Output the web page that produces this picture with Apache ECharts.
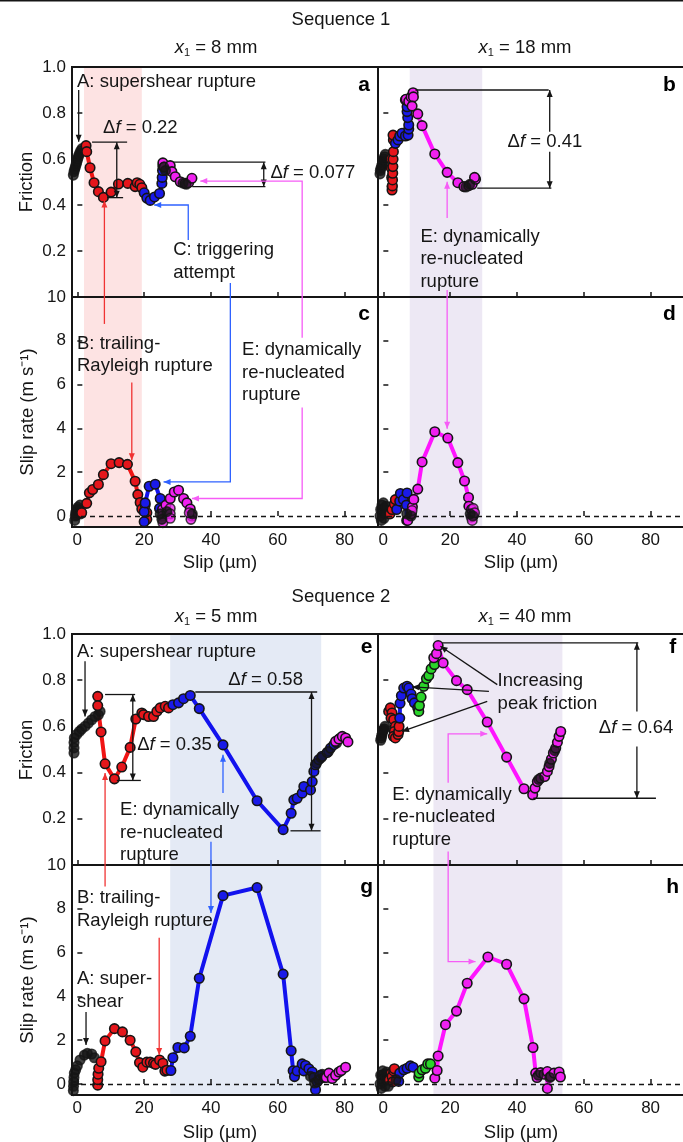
<!DOCTYPE html>
<html><head><meta charset="utf-8">
<script src="https://cdn.jsdelivr.net/npm/echarts@6/dist/echarts.min.js"></script>
<style>html,body{margin:0;padding:0;background:#fff}#c{width:683px;height:1142px}</style>
</head><body><div id="c"></div>
<script>
// ---------- tick labels ----------
const X_TICKS = [0, 20, 40, 60, 80];
const FRICTION_TICKS = [0.2, 0.4, 0.6, 0.8, 1.0];
const RATE_TICKS = [0, 2, 4, 6, 8, 10];

// ---------- shaded slip windows (µm) ----------
const shadeSeq1Left = [2.0, 19.3];
const shadeSeq1Right = [7.9, 29.6];
const shadeSeq2Left = [27.8, 73.0];
const shadeSeq2Right = [15.0, 53.6];

// ---------- panel a : friction, sequence 1, x1 = 8 mm ----------
const aBlack = [[-1.2,0.53],[-1.0,0.545],[-0.8,0.555],[-0.6,0.565],[-0.4,0.575],[-0.2,0.585],[0.0,0.595],[0.2,0.605],[0.4,0.615],[0.7,0.625],[1.0,0.635],[1.4,0.645]];
const aRed = [[2.6,0.658],[2.8,0.632],[3.8,0.562],[5.0,0.497],[6.3,0.458],[7.8,0.433],[10.1,0.456],[12.3,0.491],[15.1,0.494],[17.3,0.48],[17.9,0.497],[18.7,0.49],[19.3,0.475]];
const aBlue = [[20.0,0.453],[20.8,0.43],[21.8,0.42],[23.1,0.435],[24.6,0.45],[25.3,0.494],[25.4,0.52],[25.5,0.55],[25.6,0.57]];
const aMag = [[25.6,0.583],[26.0,0.565],[27.8,0.571],[28.3,0.545],[29.3,0.523],[30.8,0.501],[32.3,0.494],[33.3,0.497],[34.3,0.516]];
const aDark = [[25.9,0.565],[26.4,0.55],[31.6,0.495],[32.6,0.49]];

// ---------- panel b : friction, sequence 1, x1 = 18 mm ----------
const bBlack = [[-1.0,0.535],[-0.9,0.55],[-0.7,0.56],[-0.5,0.57],[-0.3,0.58],[-0.1,0.59],[0.1,0.6],[0.4,0.61],[0.6,0.62]];
const bRed = [[2.3,0.6],[2.4,0.56],[2.5,0.52],[2.6,0.48],[2.6,0.465],[2.7,0.483],[2.75,0.509],[2.8,0.538],[2.85,0.567],[2.9,0.599],[3.0,0.632],[3.0,0.683],[2.9,0.704]];
const bBlue = [[3.6,0.668],[4.4,0.683],[4.9,0.7],[5.6,0.712],[6.6,0.7],[7.4,0.704],[7.6,0.73],[7.6,0.748],[7.3,0.78],[7.1,0.806],[7.1,0.827],[6.6,0.857]];
const bMag = [[6.8,0.86],[7.6,0.85],[8.3,0.87],[8.9,0.888],[9.0,0.87],[8.6,0.83],[10.3,0.796],[11.6,0.745],[15.4,0.622],[19.1,0.542],[22.3,0.497],[24.1,0.48],[25.6,0.484],[26.6,0.49],[27.6,0.512],[27.3,0.52]];
const bDark = [[24.7,0.478],[25.9,0.49]];

// ---------- panel c : slip rate, sequence 1, x1 = 8 mm ----------
const cBlack = [[-0.8,-0.2],[-0.6,0.0],[-0.5,0.15],[-0.3,0.05],[-0.2,0.3],[0.0,0.2],[0.2,0.4],[0.5,0.3],[0.8,0.5],[1.0,0.1]];
const cRed = [[1.3,0.15],[2.8,0.58],[3.6,1.06],[4.6,1.21],[6.3,1.44],[7.8,1.89],[10.1,2.39],[12.5,2.44],[15.0,2.36],[17.3,1.59],[18.1,0.98],[18.8,0.62],[19.3,0.32],[20.3,0.5],[20.8,0.15],[20.8,-0.15]];
const cBlue = [[20.0,-0.26],[20.0,0.2],[20.3,0.6],[21.5,1.36],[23.3,1.45],[24.8,0.8],[24.6,0.35]];
const cMag = [[25.5,0.3],[26.5,0.5],[27.8,0.8],[29.0,1.1],[30.3,1.18],[31.8,0.8],[32.8,0.6],[33.8,0.32],[34.3,0.0]];
const cMagX = [[25.5,0.0],[25.6,-0.3],[27.8,0.35],[27.8,0.1],[27.8,-0.1],[34.0,-0.15],[33.5,0.15]];
const cDark = [[24.8,0.1],[25.3,-0.15],[26.8,0.2],[34.4,0.1]];

// ---------- panel d : slip rate, sequence 1, x1 = 18 mm ----------
const dBlack = [[-1.0,0.0],[-0.8,0.3],[-0.6,-0.2],[-0.4,0.5],[-0.2,0.2],[0.0,0.6],[0.2,-0.1],[0.4,0.35],[0.6,0.1],[0.8,0.45]];
const dRed = [[2.0,0.1],[2.6,0.3],[3.3,0.55],[3.6,0.75]];
const dBlue = [[4.0,0.3],[4.9,0.68],[5.1,1.03],[6.0,0.75],[7.1,1.05],[6.9,0.5],[7.0,-0.2]];
const dMag = [[7.3,-0.2],[8.4,0.1],[8.7,0.42],[9.1,0.76],[10.3,1.23],[11.6,2.47],[15.4,3.85],[19.3,3.56],[22.3,2.44],[24.3,1.6],[25.5,0.85],[25.6,0.45],[26.4,0.3],[27.0,0.05]];
const dMagX = [[8.6,0.25],[26.3,-0.05],[26.9,0.35],[26.6,-0.2],[27.3,0.15]];
const dDark = [[7.0,0.1],[8.3,0.0],[26.0,0.1],[26.8,0.0]];

// ---------- panel e : friction, sequence 2, x1 = 5 mm ----------
const eBlack = [[-1.0,0.485],[-1.0,0.507],[-1.0,0.53],[-0.9,0.55],[-0.2,0.565],[0.6,0.578],[1.3,0.588],[2.3,0.6],[3.3,0.614],[4.3,0.629],[5.3,0.643],[6.3,0.65],[6.8,0.665]];
const eRed = [[6.1,0.73],[6.1,0.69],[7.1,0.576],[8.3,0.438],[11.1,0.373],[13.3,0.424],[15.8,0.509],[17.5,0.632],[19.3,0.658],[19.8,0.651],[21.3,0.643],[22.8,0.643],[23.8,0.665],[24.8,0.68],[26.3,0.687],[27.3,0.68]];
const eBlue = [[28.6,0.694],[30.3,0.702],[31.8,0.72],[33.8,0.734],[36.5,0.677],[43.6,0.52],[53.8,0.278],[61.6,0.153],[64.0,0.224],[64.8,0.282],[65.8,0.289],[67.3,0.311],[67.8,0.34],[69.8,0.325],[70.3,0.361],[70.8,0.405],[71.3,0.434],[72.3,0.456],[73.3,0.471],[74.8,0.487],[75.8,0.506],[76.8,0.521]];
const eMag = [[77.3,0.535],[78.3,0.545],[79.3,0.557],[80.3,0.55],[81.0,0.533]];
const eDark = [[71.6,0.44],[73.0,0.465],[75.2,0.492],[77.6,0.528],[78.8,0.55]];

// ---------- panel f : friction, sequence 2, x1 = 40 mm ----------
const fBlack = [[-0.8,0.54],[-0.6,0.55],[-0.5,0.56],[-0.3,0.57],[-0.2,0.58],[0.0,0.585],[0.3,0.59],[0.5,0.6]];
const fRed = [[1.6,0.665],[2.1,0.68],[2.6,0.658],[2.3,0.636],[3.1,0.629],[3.6,0.6],[3.3,0.578],[3.0,0.557],[3.6,0.55],[4.4,0.565],[4.6,0.578],[4.7,0.6]];
const fBlue = [[4.9,0.636],[5.0,0.7],[5.4,0.733],[6.1,0.766],[7.1,0.774],[7.6,0.766],[8.3,0.74],[8.6,0.72],[9.3,0.702],[10.3,0.68]];
const fGreen = [[10.6,0.665],[10.8,0.69],[11.3,0.727],[12.1,0.774],[12.9,0.807],[13.6,0.82],[14.3,0.849],[15.3,0.868]];
const fMag = [[15.1,0.897],[15.9,0.915],[16.4,0.95],[17.9,0.875],[21.9,0.798],[25.1,0.759],[31.1,0.619],[36.9,0.467],[42.1,0.33],[44.7,0.304],[45.4,0.333],[46.1,0.361],[47.1,0.376],[48.3,0.383],[49.1,0.405],[49.6,0.426],[50.3,0.458],[50.9,0.485],[51.6,0.506],[52.1,0.531],[52.6,0.557],[53.1,0.578]];
const fDark = [[46.5,0.37],[49.8,0.44],[51.3,0.495]];

// ---------- panel g : slip rate, sequence 2, x1 = 5 mm ----------
const gBlack = [[-1.2,-0.3],[-1.15,-0.1],[-1.1,0.1],[-1.0,0.3],[-0.9,0.5],[-0.5,0.65],[0.0,0.83],[0.8,1.1],[2.1,1.32],[3.0,1.4],[4.3,1.37],[5.1,1.2]];
const gRed = [[6.1,-0.05],[6.1,0.2],[6.2,0.45],[6.4,0.72],[7.1,1.02],[8.3,1.97],[11.1,2.53],[13.5,2.38],[15.8,2.0],[17.5,1.47],[18.6,0.98],[19.6,0.77],[20.8,1.0],[21.8,1.0],[22.8,0.95],[23.4,0.9],[24.6,1.1],[25.6,0.95],[26.2,0.59],[26.8,0.63]];
const gBlue = [[28.0,0.62],[28.6,1.2],[30.1,1.67],[32.0,1.65],[33.8,2.18],[36.5,4.83],[43.6,8.6],[53.8,8.97],[61.6,5.02],[64.0,1.52],[64.6,0.61],[65.0,0.34],[65.8,0.6],[67.3,0.92],[67.8,0.6],[68.3,0.85],[69.3,0.7],[70.3,0.55],[70.8,0.3],[71.3,-0.26],[71.8,0.1],[72.8,0.4],[73.8,0.3]];
const gMag = [[74.5,0.3],[75.3,0.5],[76.3,0.25],[77.3,0.4],[78.3,0.55],[79.0,0.62],[80.3,0.77]];
const gDark = [[69.8,0.35],[71.0,0.05],[72.3,0.2],[73.3,0.45]];

// ---------- panel h : slip rate, sequence 2, x1 = 40 mm ----------
const hBlack = [[-1.0,0.0],[-0.8,0.4],[-0.6,-0.2],[-0.4,0.2],[-0.2,0.6],[0.0,0.1],[0.2,0.45],[0.5,-0.1],[0.8,0.3],[1.0,0.55]];
const hRed = [[1.8,0.2],[2.3,0.5],[2.6,0.35],[3.1,0.6],[3.3,0.7],[2.8,0.1]];
const hBlue = [[4.6,0.12],[4.9,0.5],[6.1,0.65],[7.1,0.72],[8.1,0.83],[8.9,0.77]];
const hGreen = [[10.6,0.32],[10.7,0.5],[11.6,0.65],[12.6,0.72],[13.3,0.92],[14.1,0.92]];
const hMag = [[15.4,0.27],[16.1,0.62],[16.4,1.28],[18.6,2.71],[21.9,3.33],[25.1,4.6],[31.3,5.8],[36.9,5.47],[42.1,3.89],[44.8,1.67],[45.6,0.5],[46.0,0.3],[47.1,0.52],[48.1,0.45],[49.1,0.57],[49.1,-0.2],[50.1,0.35],[51.1,0.5],[52.6,0.55],[53.0,0.32]];
const hDark = [[1.5,-0.1],[3.8,0.2],[46.4,0.4],[49.8,0.3]];

// ---------- layout ----------
const FONT = "'Liberation Sans', Arial, Helvetica, sans-serif";
const INK = '#151515';
const FILL = {k:'#151515', r:'#e5161b', b:'#1a1ae8', m:'#f021f0', g:'#2ad42a'};
const LINE = {r:'#f01414', b:'#1212ee', m:'#ff14ff', g:'#22c822'};
const ANN = {k:'#151515', r:'#f03333', b:'#2f62ff', m:'#f65cf6'};
const TXT = 18.5, TICK = 17;

const GRIDS = [
  {left:72, top:67, height:230, kind:'f'},
  {left:378, top:67, height:230, kind:'f'},
  {left:72, top:297, height:230, kind:'r'},
  {left:378, top:297, height:230, kind:'r'},
  {left:72, top:634, height:231, kind:'f'},
  {left:378, top:634, height:231, kind:'f'},
  {left:72, top:865, height:230, kind:'r'},
  {left:378, top:865, height:230, kind:'r'}
];
const PANEL_W = 306;

const PANELS = [
  {gi:0, shade:shadeSeq1Left, shadeColor:'#fde3e3', sets:[[aBlack,'k',false],[aRed,'r',true],[aBlue,'b',true],[aMag,'m',true],[aDark,'k',false]]},
  {gi:1, shade:shadeSeq1Right, shadeColor:'#ede8f4', sets:[[bBlack,'k',false],[bRed,'r',true],[bBlue,'b',true],[bMag,'m',true],[bDark,'k',false]]},
  {gi:2, shade:shadeSeq1Left, shadeColor:'#fde3e3', sets:[[cBlack,'k',false],[cRed,'r',true],[cBlue,'b',true],[cMag,'m',true],[cMagX,'m',false],[cDark,'k',false]]},
  {gi:3, shade:shadeSeq1Right, shadeColor:'#ede8f4', sets:[[dBlack,'k',false],[dRed,'r',true],[dBlue,'b',true],[dMag,'m',true],[dMagX,'m',false],[dDark,'k',false]]},
  {gi:4, shade:shadeSeq2Left, shadeColor:'#e4eaf5', sets:[[eBlack,'k',false],[eRed,'r',true],[eBlue,'b',true],[eDark,'k',false],[eMag,'m',true]]},
  {gi:5, shade:shadeSeq2Right, shadeColor:'#ede8f4', sets:[[fBlack,'k',false],[fRed,'r',true],[fBlue,'b',true],[fGreen,'g',true],[fMag,'m',true],[fDark,'k',false]]},
  {gi:6, shade:shadeSeq2Left, shadeColor:'#e4eaf5', sets:[[gBlack,'k',false],[gRed,'r',true],[gBlue,'b',true],[gDark,'k',false],[gMag,'m',true]]},
  {gi:7, shade:shadeSeq2Right, shadeColor:'#ede8f4', sets:[[hBlack,'k',false],[hRed,'r',true],[hBlue,'b',true],[hGreen,'g',true],[hMag,'m',true],[hDark,'k',false]]}
];

const grid = GRIDS.map(g => ({left:g.left, top:g.top, width:PANEL_W, height:g.height, show:false, outerBoundsMode:'none', containLabel:false}));
const xAxis = GRIDS.map((g, i) => ({
  type:'value', gridIndex:i, min:-1.6, max:90, z:1.5,
  axisLine:{show:false}, splitLine:{show:false},
  axisTick:{show:true, inside:true, length:5, customValues:X_TICKS, lineStyle:{color:INK, width:1.5}},
  axisLabel:{show:g.kind==='r', customValues:X_TICKS, fontSize:TICK, color:INK, fontFamily:FONT, margin:5}
}));
const yAxis = GRIDS.map((g, i) => {
  const left = (i % 2 === 0);
  if (g.kind === 'f') return {
    type:'value', gridIndex:i, min:0, max:1, interval:0.2, z:1.5,
    axisLine:{show:false}, splitLine:{show:false},
    axisTick:{show:true, inside:true, length:5, lineStyle:{color:INK, width:1.5}},
    axisLabel:{show:left, customValues:FRICTION_TICKS, formatter:v => v.toFixed(1), fontSize:TICK, color:INK, fontFamily:FONT, margin:6}
  };
  return {
    type:'value', gridIndex:i, min:-0.5, max:10, z:1.5,
    axisLine:{show:false}, splitLine:{show:false},
    axisTick:{show:true, inside:true, length:5, customValues:RATE_TICKS, lineStyle:{color:INK, width:1.5}},
    axisLabel:{show:left, customValues:RATE_TICKS, fontSize:TICK, color:INK, fontFamily:FONT, margin:6}
  };
});

const series = [];
PANELS.forEach(p => {
  const isRate = GRIDS[p.gi].kind === 'r';
  const bg = {
    type:'scatter', xAxisIndex:p.gi, yAxisIndex:p.gi, data:[], z:1, silent:true,
    markArea:{silent:true, itemStyle:{color:p.shadeColor}, data:[[{xAxis:p.shade[0]},{xAxis:p.shade[1]}]]}
  };
  if (isRate) bg.markLine = {silent:true, symbol:['none','none'], label:{show:false},
    lineStyle:{type:[5,4], color:INK, width:1.3}, data:[{yAxis:0}]};
  series.push(bg);
  p.sets.forEach(([data, col, connected]) => {
    series.push({
      type: connected ? 'line' : 'scatter',
      xAxisIndex:p.gi, yAxisIndex:p.gi, data:data, z:2,
      symbol:'circle', symbolSize:9.5, showSymbol:true,
      lineStyle: connected ? {color:LINE[col], width:4} : undefined,
      itemStyle:{color:FILL[col], borderColor:INK, borderWidth:1.6},
      emphasis:{disabled:true}, animation:false, silent:true
    });
  });
});

const chart = echarts.init(document.getElementById('c'));
chart.setOption({animation:false, grid, xAxis, yAxis, series});

// ---------- annotations (data coordinates: [gridIndex, slip, value]) ----------
const annLines = [
  ['k','end',[[0,0.4,0.9],[0,0.4,0.675]]],
  ['k','none',[[0,4.4,0.673],[0,14.9,0.673]]],
  ['k','none',[[0,8.9,0.432],[0,13.7,0.432]]],
  ['k','both',[[0,11.8,0.673],[0,11.8,0.432]]],
  ['k','none',[[0,28.7,0.586],[0,56.3,0.586]]],
  ['k','none',[[0,34.4,0.48],[0,56.3,0.48]]],
  ['k','both',[[0,55.8,0.586],[0,55.8,0.48]]],
  ['m','end',[[2,67.3,8.14],[0,67.3,0.504],[0,36.8,0.504]]],
  ['b','end',[[0,33.2,0.248],[0,33.2,0.4],[0,23.0,0.4]]],
  ['b','end',[[0,45.8,0.061],[2,45.8,1.56],[2,25.8,1.56]]],
  ['r','end',[[2,8.1,8.77],[0,8.1,0.42]]],
  ['r','end',[[2,16.3,6.1],[2,16.3,2.55]]],
  ['m','end',[[2,67.3,4.95],[2,67.3,0.8],[2,34.3,0.8]]],
  ['k','none',[[1,9.6,0.9],[1,49.5,0.9]]],
  ['k','none',[[1,28.1,0.473],[1,50.3,0.473]]],
  ['k','end',[[1,49.8,0.719],[1,49.8,0.9]]],
  ['k','end',[[1,49.8,0.632],[1,49.8,0.473]]],
  ['m','end',[[1,19.1,0.343],[1,19.1,0.501]]],
  ['m','end',[[1,19.1,0.03],[3,19.1,3.99]]],
  ['k','end',[[4,2.3,0.882],[4,2.3,0.643]]],
  ['k','none',[[4,35.3,0.749],[4,71.8,0.749]]],
  ['k','none',[[4,63.8,0.148],[4,72.8,0.148]]],
  ['k','both',[[4,70.1,0.749],[4,70.1,0.148]]],
  ['k','none',[[4,8.3,0.738],[4,17.3,0.738]]],
  ['k','none',[[4,11.8,0.366],[4,19.0,0.366]]],
  ['k','both',[[4,16.6,0.738],[4,16.6,0.366]]],
  ['b','end',[[4,43.6,0.312],[4,43.6,0.477]]],
  ['b','end',[[4,40.0,0.101],[6,40.0,7.81]]],
  ['r','end',[[6,8.3,9.02],[4,8.3,0.398]]],
  ['r','end',[[6,24.5,6.68],[6,24.5,1.33]]],
  ['k','end',[[6,2.6,3.29],[6,2.6,1.78]]],
  ['k','end',[[5,34.1,0.781],[5,17.1,0.947]]],
  ['k','end',[[5,31.6,0.752],[5,8.6,0.771]]],
  ['k','end',[[5,31.1,0.708],[5,5.6,0.578]]],
  ['k','none',[[5,17.6,0.962],[5,76.3,0.962]]],
  ['k','none',[[5,44.9,0.289],[5,81.6,0.289]]],
  ['k','end',[[5,75.9,0.665],[5,75.9,0.962]]],
  ['k','end',[[5,75.9,0.513],[5,75.9,0.289]]],
  ['m','end',[[5,19.4,0.356],[5,19.4,0.568],[5,31.1,0.568]]],
  ['m','end',[[5,19.4,0.058],[7,19.4,5.59],[7,27.6,5.59]]]
];
const annTexts = [
  [0,-0.1,0.935,'A: supershear rupture'],
  [0,7.7,0.735,'Δ{i|f} = 0.22'],
  [0,57.8,0.54,'Δ{i|f} = 0.077'],
  [0,28.7,0.154,'C: triggering\nattempt'],
  [2,-0.1,7.36,'B: trailing-\nRayleigh rupture'],
  [2,49.3,6.55,'E: dynamically\nre-nucleated\nrupture'],
  [1,37.2,0.675,'Δ{i|f} = 0.41'],
  [1,11.1,0.165,'E: dynamically\nre-nucleated\nrupture'],
  [4,-0.1,0.921,'A: supershear rupture'],
  [4,45.2,0.803,'Δ{i|f} = 0.58'],
  [4,17.9,0.521,'Δ{i|f} = 0.35'],
  [4,12.8,0.14,'E: dynamically\nre-nucleated\nrupture'],
  [6,-0.1,7.98,'B: trailing-\nRayleigh rupture'],
  [6,-0.1,4.28,'A: super-\nshear'],
  [5,34.2,0.748,'Increasing\npeak friction'],
  [5,64.5,0.594,'Δ{i|f} = 0.64'],
  [5,2.7,0.208,'E: dynamically\nre-nucleated\nrupture']
];
const panelLetters = [[0,85.8,0.92,'a'],[1,85.6,0.92,'b'],[2,85.8,9.2,'c'],[3,85.6,9.2,'d'],[4,86.6,0.941,'e'],[5,86.6,0.941,'f'],[6,86.6,8.97,'g'],[7,86.6,9.0,'h']];

function P(pt) { return chart.convertToPixel({gridIndex: pt[0]}, [pt[1], pt[2]]); }
function head(p, q, color) {
  const dx = q[0]-p[0], dy = q[1]-p[1], L = Math.hypot(dx, dy) || 1;
  const ux = dx/L, uy = dy/L, len = 7, w = 3;
  const bx = q[0]-ux*len, by = q[1]-uy*len;
  return {type:'polygon', z:100, silent:true, shape:{points:[[q[0],q[1]],[bx-uy*w,by+ux*w],[bx+uy*w,by-ux*w]]}, style:{fill:color}};
}
const RICH = {i:{fontStyle:'italic', fontSize:TXT, fontFamily:FONT, fill:INK}};
const gfx = [];
gfx.push({type:'line', z:100, silent:true, shape:{x1:0, y1:0.75, x2:683, y2:0.75}, style:{stroke:INK, lineWidth:1.5}});
GRIDS.forEach(g => gfx.push({type:'rect', z:90, silent:true, shape:{x:g.left, y:g.top, width:PANEL_W, height:g.height}, style:{fill:null, stroke:INK, lineWidth:2}}));
annLines.forEach(([c, h, pts]) => {
  const px = pts.map(P); const col = ANN[c];
  gfx.push({type:'polyline', z:100, silent:true, shape:{points:px}, style:{stroke:col, lineWidth:1.3, fill:null}});
  if (h === 'end' || h === 'both') gfx.push(head(px[px.length-2], px[px.length-1], col));
  if (h === 'both') gfx.push(head(px[1], px[0], col));
});
annTexts.forEach(([gi, x, y, t]) => {
  const p = P([gi, x, y]);
  gfx.push({type:'text', z:100, silent:true, x:p[0], y:p[1], style:{text:t, rich:RICH, fontSize:TXT, fontFamily:FONT, fill:INK, textAlign:'left', textVerticalAlign:'middle', lineHeight:22.5}});
});
panelLetters.forEach(([gi, x, y, t]) => {
  const p = P([gi, x, y]);
  gfx.push({type:'text', z:100, silent:true, x:p[0], y:p[1], style:{text:t, fontSize:21, fontWeight:'bold', fontFamily:FONT, fill:'#000', textAlign:'center', textVerticalAlign:'middle'}});
});
const XRICH = {i:{fontStyle:'italic', fontSize:TXT, fontFamily:FONT, fill:INK}, s:{fontSize:11, fontFamily:FONT, fill:INK, padding:[9,0,0,0]}};
[[341,20,'Sequence 1'],[341,597,'Sequence 2'],
 [216,48,'{i|x}{s|1} = 8 mm'],[525,48,'{i|x}{s|1} = 18 mm'],
 [216,617,'{i|x}{s|1} = 5 mm'],[525,617,'{i|x}{s|1} = 40 mm'],
 [220,563,'Slip (µm)'],[521,563,'Slip (µm)'],[220,1133,'Slip (µm)'],[521,1133,'Slip (µm)']
].forEach(([x, y, t]) => gfx.push({type:'text', z:100, silent:true, x, y, style:{text:t, rich:XRICH, fontSize:TXT, fontFamily:FONT, fill:INK, textAlign:'center', textVerticalAlign:'middle'}}));
[[27,182,'Friction'],[28,412,'Slip rate (m s⁻¹)'],[27,750,'Friction'],[28,980,'Slip rate (m s⁻¹)']]
.forEach(([x, y, t]) => gfx.push({type:'text', z:100, silent:true, x, y, rotation:Math.PI/2, style:{text:t, fontSize:TXT, fontFamily:FONT, fill:INK, textAlign:'center', textVerticalAlign:'middle'}}));

chart.setOption({graphic: gfx});
</script>
</body></html>
